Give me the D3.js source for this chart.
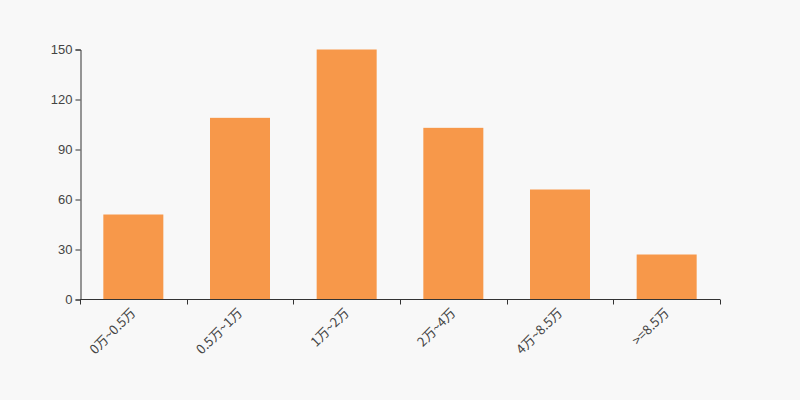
<!DOCTYPE html>
<html>
<head>
<meta charset="utf-8">
<script src="https://cdn.jsdelivr.net/npm/d3@7"></script>
<style>
  body { margin: 0; background: #f8f8f8; }
  svg { display: block; font-family: "Microsoft YaHei", "Noto Sans CJK SC", sans-serif; }
</style>
</head>
<body>
<div id="chart"></div>
<script>
  // categories and counts
  var categories = ["0万~0.5万", "0.5万~1万", "1万~2万", "2万~4万", "4万~8.5万", ">=8.5万"];
  var counts = [51, 109, 150, 103, 66, 27];
  var yTicks = [0, 30, 60, 90, 120, 150];

  var width = 800, height = 400;
  var margin = {top: 49.5, right: 80, bottom: 100.5, left: 80};

  var svg = d3.select("#chart").append("svg")
      .attr("width", width)
      .attr("height", height);

  svg.append("rect").attr("width", width).attr("height", height).attr("fill", "#f8f8f8");

  var x = d3.scaleBand()
      .domain(categories)
      .range([margin.left, width - margin.right])
      .paddingInner(0.4375)
      .paddingOuter(0.21875);

  var band = d3.scaleBand().domain(categories).range([margin.left, width - margin.right]);

  var y = d3.scaleLinear()
      .domain([0, 150])
      .range([height - margin.bottom, margin.top]);

  // bars
  svg.append("g")
    .selectAll("rect")
    .data(counts)
    .enter().append("rect")
      .attr("x", function(d, i) { return x(categories[i]); })
      .attr("y", function(d) { return y(d); })
      .attr("width", x.bandwidth())
      .attr("height", function(d) { return y(0) - y(d); })
      .attr("fill", "#f7984a");

  // y axis
  var yAxis = svg.append("g")
      .attr("transform", "translate(" + (margin.left + 0.5) + ",0)")
      .call(d3.axisLeft(y).tickValues(yTicks).tickSize(5).tickPadding(3));
  yAxis.select(".domain").attr("stroke", "#333");
  yAxis.selectAll(".tick line").attr("stroke", "#333");
  yAxis.selectAll(".tick text").attr("fill", "#444").style("font-size", "13px");

  // x axis: ticks at category boundaries
  var xg = svg.append("g").attr("transform", "translate(0," + y(0) + ")");
  xg.append("line")
      .attr("x1", margin.left).attr("x2", width - margin.right)
      .attr("stroke", "#333");
  var bounds = categories.map(function(c) { return band(c); }).concat([width - margin.right]);
  xg.selectAll("line.tk")
    .data(bounds)
    .enter().append("line")
      .attr("class", "tk")
      .attr("x1", function(d) { return Math.round(d) + 0.5; })
      .attr("x2", function(d) { return Math.round(d) + 0.5; })
      .attr("y1", 0).attr("y2", 5)
      .attr("stroke", "#333");
  xg.selectAll("text")
    .data(categories)
    .enter().append("text")
      .attr("transform", function(d) {
        return "translate(" + (band(d) + band.bandwidth() / 2) + ",11)rotate(-45)";
      })
      .attr("text-anchor", "end")
      .attr("dy", "0.35em")
      .attr("fill", "#444")
      .style("font-size", "13px")
      .text(function(d) { return d; });
</script>
</body>
</html>
